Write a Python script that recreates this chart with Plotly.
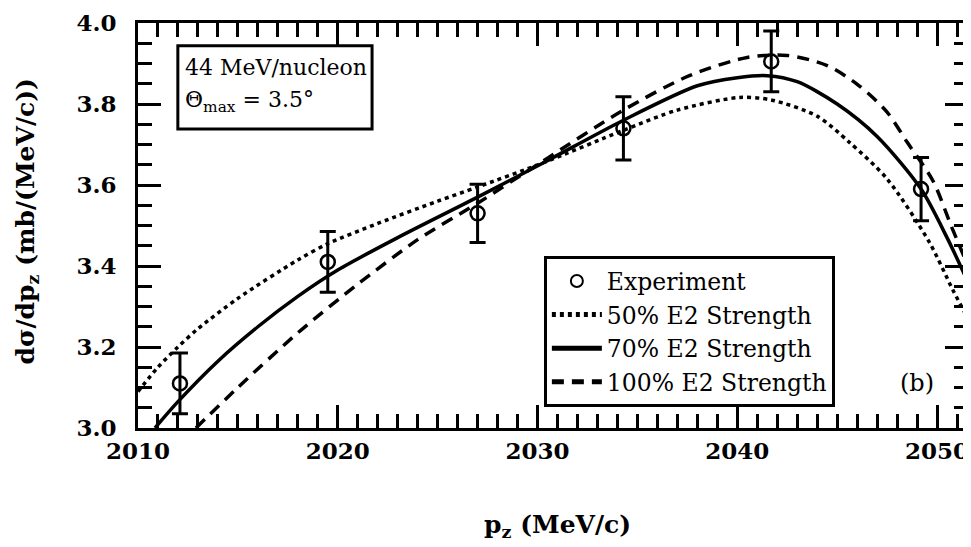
import plotly.graph_objects as go

# ---- data ----
exp_x = [2012.1, 2019.5, 2027.0, 2034.3, 2041.7, 2049.2]
exp_y = [3.11, 3.41, 3.53, 3.74, 3.905, 3.59]
exp_err = [0.075, 0.075, 0.072, 0.078, 0.075, 0.078]

s50_x = [2010.0, 2011.0, 2012.0, 2013.0, 2015.0, 2018.0, 2019.5, 2022.0, 2025.0, 2027.0,
         2030.3, 2034.3, 2037.0, 2040.1, 2041.7, 2044.0, 2045.6, 2047.5, 2049.6, 2050.8, 2051.55]
s50_y = [3.09, 3.15, 3.20, 3.245, 3.32, 3.415, 3.455, 3.505, 3.56, 3.595,
         3.655, 3.735, 3.785, 3.816, 3.81, 3.77, 3.706, 3.615, 3.46, 3.34, 3.27]

s70_x = [2010.85, 2012.0, 2014.0, 2016.0, 2018.0, 2020.0, 2023.0, 2027.0, 2030.3, 2034.3,
         2038.0, 2040.0, 2041.5, 2043.0, 2045.0, 2047.0, 2049.2, 2050.5, 2051.55]
s70_y = [3.00, 3.065, 3.165, 3.25, 3.325, 3.39, 3.47, 3.57, 3.655, 3.76,
         3.845, 3.865, 3.87, 3.855, 3.80, 3.72, 3.59, 3.47, 3.36]

s100_x = [2012.9, 2015.0, 2018.0, 2021.0, 2024.0, 2027.0, 2030.3, 2034.3, 2037.6,
          2040.5, 2042.5, 2044.5, 2046.1, 2047.5, 2048.5, 2049.8, 2050.7, 2051.55]
s100_y = [3.00, 3.10, 3.235, 3.355, 3.465, 3.555, 3.66, 3.785, 3.87,
          3.915, 3.92, 3.895, 3.845, 3.78, 3.706, 3.61, 3.50, 3.40]

x_range = [2010, 2051.55]
y_range = [3.0, 4.0]
x_ticks = [2010, 2020, 2030, 2040, 2050]
y_ticks = [3.0, 3.2, 3.4, 3.6, 3.8, 4.0]
y_ticklabels = ["3.0", "3.2", "3.4", "3.6", "3.8", "4.0"]

FONT = "DejaVu Serif"

fig = go.Figure()

fig.add_trace(go.Scatter(
    x=exp_x, y=exp_y, mode="markers", name="Experiment",
    marker=dict(symbol="circle-open", size=14, color="black", line=dict(width=2.5, color="black")),
    error_y=dict(type="data", array=exp_err, visible=True, color="black", thickness=3, width=8),
))
fig.add_trace(go.Scatter(
    x=s50_x, y=s50_y, mode="lines", name="50% E2 Strength",
    line=dict(color="black", width=3.5, dash="4px,4px", shape="spline", smoothing=0.8),
))
fig.add_trace(go.Scatter(
    x=s70_x, y=s70_y, mode="lines", name="70% E2 Strength",
    line=dict(color="black", width=3.5, shape="spline", smoothing=0.8),
))
fig.add_trace(go.Scatter(
    x=s100_x, y=s100_y, mode="lines", name="100% E2 Strength",
    line=dict(color="black", width=3.5, dash="12px,8px", shape="spline", smoothing=0.8),
))

axis_common = dict(
    showline=True, linecolor="black", linewidth=3, mirror="allticks",
    ticks="inside", ticklen=23, tickwidth=3, tickcolor="black",
    showgrid=False, zeroline=False, automargin=False, ticklabeloverflow="allow",
    tickfont=dict(family=FONT, size=23, color="black", weight="bold"),
)

fig.update_xaxes(
    range=x_range, tickmode="array", tickvals=x_ticks, ticktext=[str(t) for t in x_ticks],
    minor=dict(dtick=1, ticks="inside", ticklen=14, tickwidth=3, tickcolor="black"),
    ticklabelstandoff=0,
    **axis_common,
)
fig.update_yaxes(
    range=y_range, tickmode="array", tickvals=y_ticks, ticktext=y_ticklabels,
    minor=dict(dtick=0.05, ticks="inside", ticklen=14, tickwidth=3, tickcolor="black"),
    ticklabelstandoff=14,
    **axis_common,
)

# axis titles
fig.add_annotation(
    x=0.505, y=-0.243, xref="paper", yref="paper", xanchor="center", yanchor="middle",
    text="p<sub>z</sub> (MeV/c)", showarrow=False,
    font=dict(family=FONT, size=25, color="black", weight="bold"),
)
fig.add_annotation(
    x=-0.1337, y=0.51, xref="paper", yref="paper", xanchor="center", yanchor="middle",
    text="dσ/dp<sub>z</sub> (mb/(MeV/c))", showarrow=False, textangle=-90,
    font=dict(family=FONT, size=25, color="black", weight="bold"),
)

# info box
fig.add_shape(
    type="rect", xref="paper", yref="paper", x0=0.048, x1=0.282, y0=0.738, y1=0.944,
    line=dict(color="black", width=3), fillcolor="white", layer="above",
)
fig.add_annotation(
    x=0.0542, y=0.89, xref="paper", yref="paper", xanchor="left", yanchor="middle",
    text="44 MeV/nucleon", showarrow=False,
    font=dict(family=FONT, size=22, color="black"),
)
fig.add_annotation(
    x=0.0542, y=0.805, xref="paper", yref="paper", xanchor="left", yanchor="middle",
    text="Θ<sub>max</sub> = 3.5°", showarrow=False,
    font=dict(family=FONT, size=22, color="black"),
)
fig.add_annotation(
    x=0.9386, y=0.110, xref="paper", yref="paper", xanchor="center", yanchor="middle",
    text="(b)", showarrow=False, font=dict(family=FONT, size=24, color="black"),
)

# the page body has an 8 px margin, so the figure is 8 px smaller in each direction
fig.update_layout(
    width=963, height=539,
    margin=dict(l=130, r=3, t=15, b=119),
    paper_bgcolor="white", plot_bgcolor="white",
    showlegend=True,
    legend=dict(
        x=0.489, y=0.424, xanchor="left", yanchor="top",
        font=dict(family=FONT, size=23.5, color="black"),
        bordercolor="black", borderwidth=3, bgcolor="white",
        itemsizing="constant", tracegroupgap=0, itemwidth=50,
    ),
)

fig.write_html("out.html")
